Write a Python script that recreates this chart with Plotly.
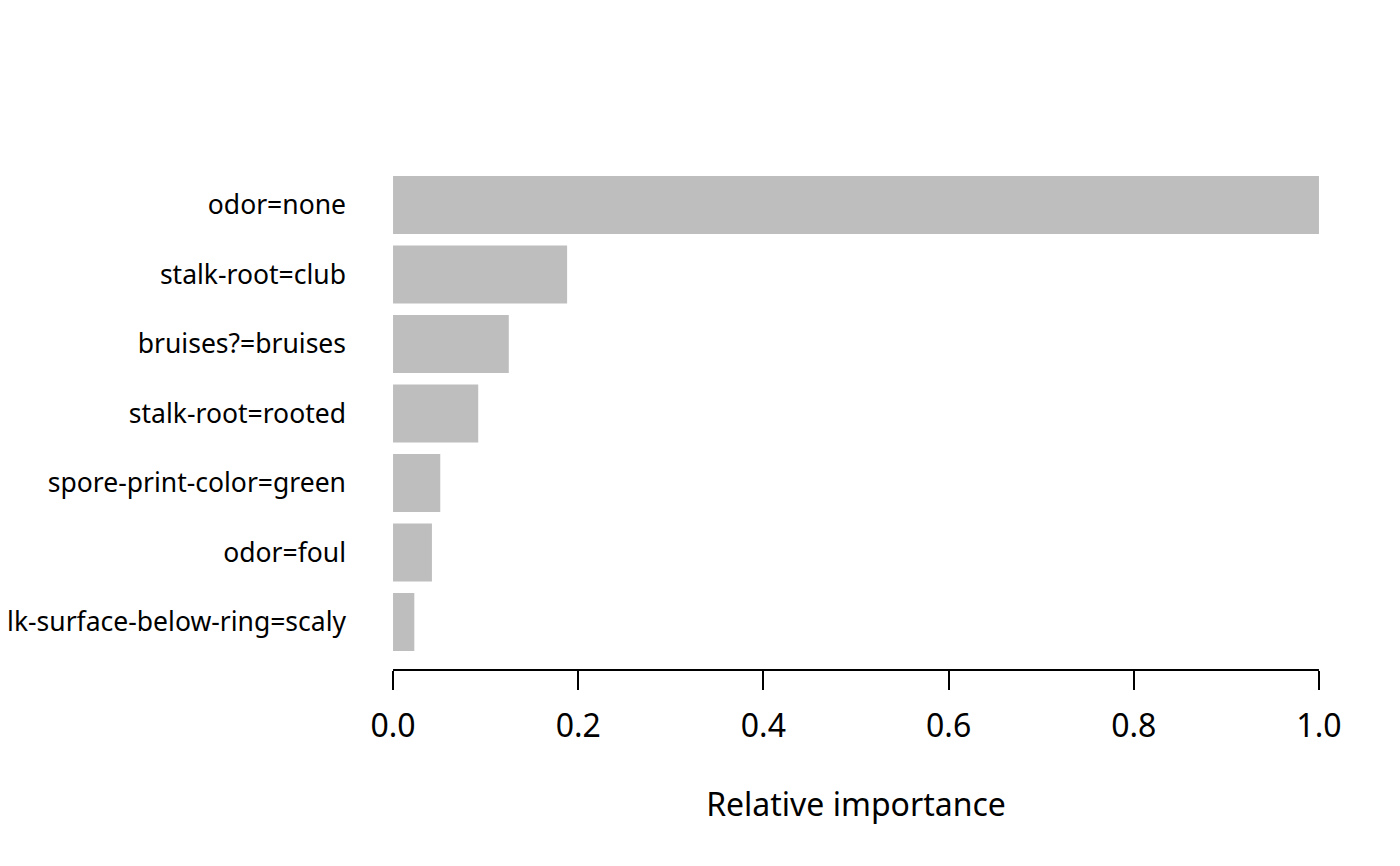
import plotly.graph_objects as go

# features, most important first
features = [
    "odor=none",
    "stalk-root=club",
    "bruises?=bruises",
    "stalk-root=rooted",
    "spore-print-color=green",
    "odor=foul",
    "stalk-surface-below-ring=scaly",
]
importance = [1.0, 0.188, 0.125, 0.092, 0.051, 0.042, 0.023]

x_ticks = [0.0, 0.2, 0.4, 0.6, 0.8, 1.0]
x_ticklabels = ["0.0", "0.2", "0.4", "0.6", "0.8", "1.0"]

fig = go.Figure()
fig.add_trace(go.Bar(
    x=importance,
    y=features,
    orientation="h",
    marker=dict(color="#BEBEBE", line=dict(width=0)),
    hoverinfo="skip",
))

# R style axis line: only spans the tick range
fig.add_shape(type="line", xref="x", yref="paper",
              x0=x_ticks[0], x1=x_ticks[-1], y0=0, y1=0,
              line=dict(color="black", width=2))

fig.update_layout(
    width=1400, height=866,
    margin=dict(l=348, r=52, t=149, b=204),
    paper_bgcolor="white", plot_bgcolor="white",
    font=dict(family="Noto Sans", color="black"),
    showlegend=False,
    bargap=0.1667,
    xaxis=dict(
        range=[-0.04, 1.04],
        tickvals=x_ticks, ticktext=x_ticklabels,
        ticks="outside", ticklen=19, tickwidth=2, tickcolor="black",
        tickfont=dict(size=32),
        ticklabelstandoff=9,
        showgrid=False, zeroline=False, showline=False,
        automargin=False,
        title=dict(text="Relative importance", font=dict(size=32), standoff=48),
    ),
    yaxis=dict(
        categoryorder="array", categoryarray=features[::-1],
        range=[-0.69, 6.69],
        ticks="", tickfont=dict(size=26.5),
        ticklabelstandoff=9,
        showgrid=False, zeroline=False, showline=False,
        automargin=False,
    ),
)

fig.write_html("out.html")
